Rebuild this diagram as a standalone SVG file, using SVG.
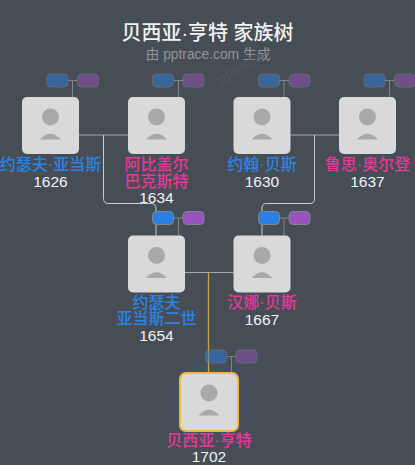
<svg xmlns="http://www.w3.org/2000/svg" width="415" height="465" viewBox="0 0 415 465">
<style>
text{text-anchor:middle;font-family:"Liberation Sans","Noto Sans CJK SC",sans-serif}
.n{font-size:16px;font-weight:500}
.m{fill:#2a84e6}.f{fill:#e6379b}
.y{font-size:15.500px;fill:#f2f3f5}
.card{fill:#d9d9d9}
.hd{fill:#a9a9a9}
.pb{fill:#2a7fe0;stroke:#7b8792;stroke-width:1}
.pp{fill:#9a52bd;stroke:#7b8792;stroke-width:1}
.dim{opacity:.5}
.c{fill:none;stroke:#a3a8ad;stroke-width:1.200}
.link{fill:none;stroke:#c9ccd0;stroke-width:1}
.s{fill:none;stroke:#7d848c;stroke-width:1}
</style>
<defs>
<g id="av">
<rect class="card" width="57" height="57" rx="5"/>
<circle class="hd" cx="28.500" cy="20" r="8.500"/>
<path class="hd" d="M18 42.500Q28.500 31 39 42.500Z"/>
</g>
<g id="pr">
<rect class="pb" width="21" height="13" rx="4"/>
<rect class="pp" x="30.500" width="21" height="13" rx="4"/>
</g>
<radialGradient id="gl"><stop offset="0" stop-color="#3f5780" stop-opacity=".7"/><stop offset="1" stop-color="#3f5780" stop-opacity="0"/></radialGradient>
</defs>
<rect width="415" height="465" fill="#474d55"/>
<ellipse cx="209" cy="402" rx="50" ry="50" fill="url(#gl)"/>
<text x="207.500" y="39.500" font-size="20" font-weight="500" fill="#f1f2f3">贝西亚·亨特 家族树</text>
<text x="208" y="58.500" font-size="13.800" fill="#8f949a">由 pptrace.com 生成</text>
<text x="242" y="72" font-size="15" fill="#50565e" transform="rotate(-30 242 72)">pptrace</text>
<g id="connectors">
<path class="c" d="M79 135H128M290.500 135H339M185 272.500H233.500"/>
<path class="link" d="M103.500 135V198.500Q103.500 203.500 108.500 203.500H151Q156 203.500 156 208.500V235.500"/>
<path class="link" d="M314.500 135V199Q314.500 203.500 310 203.500H266.500Q262 203.500 262 208V235.500"/>
<path fill="none" stroke="#c9a24a" stroke-width="1.300" d="M208.500 272.500V372.500"/>
<path class="s" d="M68 80.500H77M72.500 80.500V97M174 80.500H183M178.500 80.500V97M279.500 80.500H289M284 80.500V97M385 80.500H394M389.500 80.500V97M174 218H183M178.500 218V235.500M279.500 218H289M284 218V235.500M227 356.500H236M231.500 356.500V372.500"/>
</g>
<g id="n1"><g class="dim"><use href="#pr" x="47" y="74"/></g><use href="#av" x="22" y="97"/><text class="n m" x="50.500" y="170">约瑟夫·亚当斯</text><text class="y" x="50.500" y="187">1626</text></g>
<g id="n2"><g class="dim"><use href="#pr" x="152.500" y="74"/></g><use href="#av" x="128" y="97"/><text class="n f" x="156.500" y="170">阿比盖尔</text><text class="n f" x="156.500" y="187">巴克斯特</text><text class="y" x="156.500" y="203">1634</text></g>
<g id="n3"><g class="dim"><use href="#pr" x="258.500" y="74"/></g><use href="#av" x="233.500" y="97"/><text class="n m" x="262" y="170">约翰·贝斯</text><text class="y" x="262" y="187">1630</text></g>
<g id="n4"><g class="dim"><use href="#pr" x="364" y="74"/></g><use href="#av" x="339" y="97"/><text class="n f" x="367.500" y="170">鲁思·奥尔登</text><text class="y" x="367.500" y="187">1637</text></g>
<g id="n5"><use href="#pr" x="152.500" y="211.500"/><use href="#av" x="128" y="235.500"/><text class="n m" x="156.500" y="308">约瑟夫</text><text class="n m" x="156.500" y="324">亚当斯二世</text><text class="y" x="156.500" y="341">1654</text></g>
<g id="n6"><use href="#pr" x="258.500" y="211.500"/><use href="#av" x="233.500" y="235.500"/><text class="n f" x="262" y="308">汉娜·贝斯</text><text class="y" x="262" y="325">1667</text></g>
<g id="n7"><g class="dim"><use href="#pr" x="205.500" y="350"/></g><rect x="180" y="373" width="58" height="58" rx="6" fill="#d9d9d9" stroke="#f0b93c" stroke-width="2"/><circle class="hd" cx="209" cy="393" r="8.500"/><path class="hd" d="M198.500 415.500Q209 404 219.500 415.500Z"/><text class="n f" x="209" y="446">贝西亚·亨特</text><text class="y" x="209" y="462">1702</text></g>
</svg>
